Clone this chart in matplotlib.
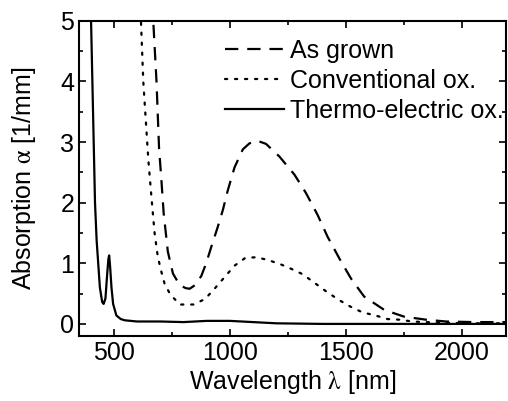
import matplotlib
matplotlib.use('Agg')
import matplotlib.pyplot as plt
from matplotlib.ticker import MultipleLocator

plt.rcParams['font.family'] = ['Liberation Sans', 'DejaVu Sans']
plt.rcParams['mathtext.fontset'] = 'stix'

# as grown sample (dashed)
lam_grown = [664, 670, 684, 695, 705, 715, 733, 755, 784, 810, 827, 850, 877, 898, 920, 948, 970, 991,
             1020, 1056, 1085, 1120, 1156, 1214, 1279, 1328, 1378, 1421, 1472, 1522, 1579,
             1666, 1751, 1845, 1931, 2050, 2190]
abs_grown = [5.3, 5.0, 4.0, 2.9, 2.38, 1.82, 1.19, 0.83, 0.64, 0.59, 0.58, 0.64, 0.79, 1.0, 1.27, 1.60, 1.88, 2.20,
             2.58, 2.88, 2.98, 3.02, 2.97, 2.76, 2.46, 2.16, 1.80, 1.44, 1.08, 0.75, 0.45,
             0.23, 0.12, 0.07, 0.04, 0.03, 0.03]

# conventional oxidation (dotted)
lam_conv = [612, 617, 627, 649, 662, 676, 690, 705, 719, 743, 784, 843, 893, 934, 977, 1020,
            1067, 1116, 1168, 1221, 1264, 1314, 1364, 1414, 1468, 1522, 1572, 1627, 1680,
            1730, 1787, 1900, 2050, 2190]
abs_conv = [5.3, 5.0, 4.0, 2.7, 2.1, 1.49, 1.1, 0.86, 0.66, 0.49, 0.32, 0.32, 0.41, 0.58, 0.77, 0.96,
            1.09, 1.10, 1.05, 0.98, 0.91, 0.82, 0.68, 0.54, 0.40, 0.28, 0.19, 0.14, 0.08,
            0.07, 0.04, 0.02, 0.01, 0.01]

# thermo-electric oxidation (solid)
lam_te = [399, 402, 419, 426, 440, 450, 456, 464, 472, 477, 480, 484, 490, 497, 511, 530, 547, 600,
          700, 800, 900, 1000, 1100, 1200, 1400, 1700, 2000, 2190]
abs_te = [5.3, 5.0, 2.0, 1.38, 0.6, 0.36, 0.33, 0.42, 0.85, 1.08, 1.13, 0.95, 0.6, 0.33, 0.14, 0.08,
          0.06, 0.04, 0.04, 0.03, 0.05, 0.05, 0.03, 0.01, 0.0, 0.0, 0.0, 0.0]

fig = plt.figure(figsize=(5.08, 4.01), dpi=100)
ax = fig.add_axes([0.1555, 0.162, 0.8405, 0.786])

ax.plot(lam_grown, abs_grown, color='black', lw=1.6, dashes=(6, 4), label='As grown')
ax.plot(lam_conv, abs_conv, color='black', lw=1.6, dashes=(1, 3.5), dash_capstyle='round',
        label='Conventional ox.')
ax.plot(lam_te, abs_te, color='black', lw=1.6, label='Thermo-electric ox.')

ax.set_xlim(350, 2190)
ax.set_ylim(-0.2, 5)
ax.xaxis.set_major_locator(MultipleLocator(500))
ax.xaxis.set_minor_locator(MultipleLocator(250))
ax.yaxis.set_major_locator(MultipleLocator(1))
ax.yaxis.set_minor_locator(MultipleLocator(0.5))
ax.tick_params(which='both', direction='in', top=True, right=True, labelsize=18, width=1.2)
ax.tick_params(which='major', length=5)
ax.tick_params(which='minor', length=3)
for s in ax.spines.values():
    s.set_linewidth(1.5)

ax.set_xlabel(r'Wavelength $\mathrm{\lambda}$ [nm]', fontsize=18, labelpad=2)
ax.set_ylabel(r'Absorption $\mathrm{\alpha}$ [1/mm]', fontsize=18, labelpad=16)

ax.legend(loc='upper right', bbox_to_anchor=(1.019, 0.975), frameon=False, fontsize=18,
          handlelength=2.36, handletextpad=0.24, labelspacing=0.25, borderaxespad=0.1,
          borderpad=0.3)

fig.savefig('out.png', dpi=100)
